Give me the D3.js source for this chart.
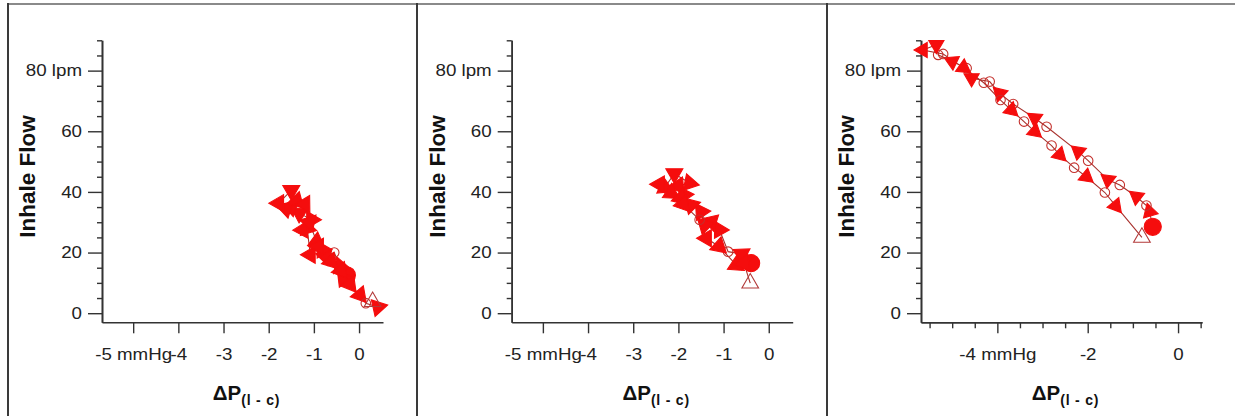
<!DOCTYPE html>
<html><head><meta charset="utf-8">
<script src="https://cdn.jsdelivr.net/npm/d3@7"></script>
<style>body{margin:0;background:#fff}</style>
</head><body>
<svg id="chart" width="1235" height="416"></svg>
<script>
// ---- tick labels ----
const xTicksA = [-5, -4, -3, -2, -1, 0];
const xTickLabelsA = ["-5 mmHg", "-4", "-3", "-2", "-1", "0"];
const xTicksB = [-4, -2, 0];
const xTickLabelsB = ["-4 mmHg", "-2", "0"];
const xMinorB = [-5.5,-5,-4.5,-3.5,-3,-2.5,-1.5,-1,-0.5,0.5];
const yTicks = [0, 20, 40, 60, 80];
const yTickLabels = ["0", "20", "40", "60", "80 lpm"];
const yMinor = [5,10,15,25,30,35,45,50,55,65,70,75,85,90];

// ---- data: ΔP (mmHg), inhale flow (lpm), marker code ----
// S start (filled circle), E end (open triangle), o open circle,
// a arrow triangle along path, v down, < left, > right
const p1x = [-0.27,-0.35,-0.42,-0.55,-0.75,-0.82,-0.94,-1.08,-1.15,-1.25,-1.05,-1.32,-1.5,-1.62,-1.78,-1.5,-1.38,-1.2,-1.1,-0.9,-0.62,-0.4,-0.2,0.02,0.15,0.42,0.3];
const p1y = [12.5,11.5,15.5,20,18.8,21,23.6,19.3,28,27.5,30.8,33,35,34.5,36.3,40.5,37,36,30,22,17,14,9.5,6,3.3,2,3.8];
const p1m = ["S","a","a","o","a","a","a","<","a","a",">","a","a","a","<","v","a","a","a","a","a","a","a","a","o","a","E"];

const p2x = [-0.39,-0.55,-0.6,-0.9,-1.09,-1.27,-1.42,-1.5,-1.72,-1.87,-2.0,-1.75,-2.09,-2.3,-2.42,-2.16,-1.95,-1.9,-1.53,-1.38,-1.1,-0.72,-0.55,-0.41];
const p2y = [16.5,17.5,19.5,20.3,27.5,30.2,29,33.5,35.7,39,42,42.9,46,41.5,42.5,39.6,38,36,30.8,24.7,22,15.9,16.5,9.9];
const p2m = ["S","a","a","o","a","a","a","a","a","a","a","a","v","a","<","a","a","a","o","<","a","a","a","E"];

const p3x = [-0.56,-0.63,-0.7,-0.92,-1.29,-1.55,-1.99,-2.21,-2.91,-3.17,-3.65,-3.95,-4.17,-4.57,-4.68,-5.0,-5.31,-5.35,-5.65,-5.2,-4.75,-4.3,-3.93,-3.69,-3.41,-3.17,-2.8,-2.62,-2.3,-2.03,-1.62,-1.38,-0.8];
const p3y = [28.5,33.5,35.5,38.4,42.3,44,50.3,53.3,61.5,64.3,69,72.5,76.4,77.5,80.8,83,85.2,88.5,86.8,85.5,81,76,70.3,67,63.2,59.9,55.3,52.2,48,45,39.8,35.4,25];
const p3m = ["S","a","o","a","o","a","o","a","o","a","o","a","o","a","o","a","o","v","<","o","a","o","o","a","o","a","o","a","o","a","o","a","E"];

const panels = [
  {off: 0,     xs: p1x, ys: p1y, ms: p1m, xt: xTicksA, xl: xTickLabelsA, xminor: [], tri: 125},
  {off: 409.7, xs: p2x, ys: p2y, ms: p2m, xt: xTicksA, xl: xTickLabelsA, xminor: [], tri: 125},
  {off: 819,   xs: p3x, ys: p3y, ms: p3m, xt: xTicksB, xl: xTickLabelsB, xminor: xMinorB, tri: 100}
];

const svg = d3.select("#chart");
const FONT = "'Liberation Sans', Arial, Helvetica, sans-serif";
const RED = "#f50d0d", LINE = "#a8322e", AXIS = "#333";
const SX = 1.15;

// frame
svg.append("line").attr("x1", 8).attr("x2", 1235).attr("y1", 4).attr("y2", 4)
  .attr("stroke", "#8a8a8a").attr("stroke-width", 2);
[8, 417, 827].forEach(x => svg.append("line").attr("x1", x).attr("x2", x)
  .attr("y1", 3).attr("y2", 416).attr("stroke", "#3a3a3a").attr("stroke-width", 2));

panels.forEach(p => {
  const x = d3.scaleLinear().domain([-5.69, 0.53]).range([102 + p.off, 383 + p.off]);
  const y = d3.scaleLinear().domain([-3, 90]).range([322.3, 40.3]);
  const x0 = 102 + p.off, yAx = 322.3;
  const g = svg.append("g");

  g.append("g").attr("transform", `translate(${x0},0)`)
    .call(d3.axisLeft(y).tickValues(yMinor).tickSize(5).tickSizeOuter(0).tickFormat(""));
  const ya = g.append("g").attr("transform", `translate(${x0},0)`)
    .call(d3.axisLeft(y).tickValues(yTicks).tickSize(14).tickSizeOuter(0).tickPadding(6)
      .tickFormat((d, i) => yTickLabels[i]));
  ya.selectAll("text").attr("x", -20 / SX).attr("transform", `scale(${SX},1)`);

  if (p.xminor.length)
    g.append("g").attr("transform", `translate(0,${yAx})`)
      .call(d3.axisBottom(x).tickValues(p.xminor).tickSize(6).tickSizeOuter(0).tickFormat(""));
  const xa = g.append("g").attr("transform", `translate(0,${yAx})`)
    .call(d3.axisBottom(x).tickValues(p.xt).tickSize(11).tickSizeOuter(0).tickPadding(15.4)
      .tickFormat((d, i) => p.xl[i]));
  xa.selectAll("text").attr("transform", `scale(${SX},1)`);
  g.selectAll(".domain").attr("stroke", AXIS).attr("stroke-width", 1.6);
  g.selectAll(".tick line").attr("stroke", AXIS).attr("stroke-width", 1.4);
  g.selectAll(".tick text").attr("fill", "#222").attr("font-family", FONT).attr("font-size", 16.3);

  g.append("text").attr("transform", `translate(${x0 - 67},176.5) rotate(-90)`)
    .attr("text-anchor", "middle").attr("font-family", FONT).attr("font-weight", "bold")
    .attr("font-size", 22.5).attr("fill", "#111").text("Inhale Flow");
  const t = g.append("text").attr("x", (x.range()[0] + x.range()[1]) / 2 + 4).attr("y", 400)
    .attr("text-anchor", "middle").attr("font-family", FONT).attr("font-weight", "bold")
    .attr("font-size", 20.5).attr("fill", "#111");
  t.append("tspan").text("ΔP");
  t.append("tspan").attr("font-size", 14).attr("dy", 5).attr("letter-spacing", 0.8).text("(l - c)");

  const pts = p.xs.map((v, i) => [x(v), y(p.ys[i]), p.ms[i]]);
  g.append("path").attr("d", d3.line()(pts.map(d => [d[0], d[1]])))
    .attr("fill", "none").attr("stroke", LINE).attr("stroke-width", 1.1);

  pts.forEach((d, i) => {
    const m = d[2];
    let sym, size, fill, stroke, rot = 0;
    if (m === "S") { sym = d3.symbolCircle; size = 230; fill = RED; stroke = RED; }
    else if (m === "E") { sym = d3.symbolTriangle; size = 120; fill = "none"; stroke = "#b23a3a"; }
    else if (m === "o") { sym = d3.symbolCircle; size = 72; fill = "none"; stroke = "#c4302c"; }
    else {
      sym = d3.symbolTriangle; size = p.tri; fill = RED; stroke = RED;
      if (m === "v") rot = 180;
      else if (m === "<") rot = -90;
      else if (m === ">") rot = 90;
      else {
        const a = pts[Math.max(0, i - 1)], b = pts[Math.min(pts.length - 1, i + 1)];
        rot = Math.atan2(b[1] - a[1], b[0] - a[0]) * 180 / Math.PI + 90;
      }
    }
    g.append("path").attr("d", d3.symbol(sym, size)())
      .attr("transform", `translate(${d[0]},${d[1]}) rotate(${rot})`)
      .attr("fill", fill).attr("stroke", stroke).attr("stroke-width", 1.1);
  });
});
</script>
</body></html>
